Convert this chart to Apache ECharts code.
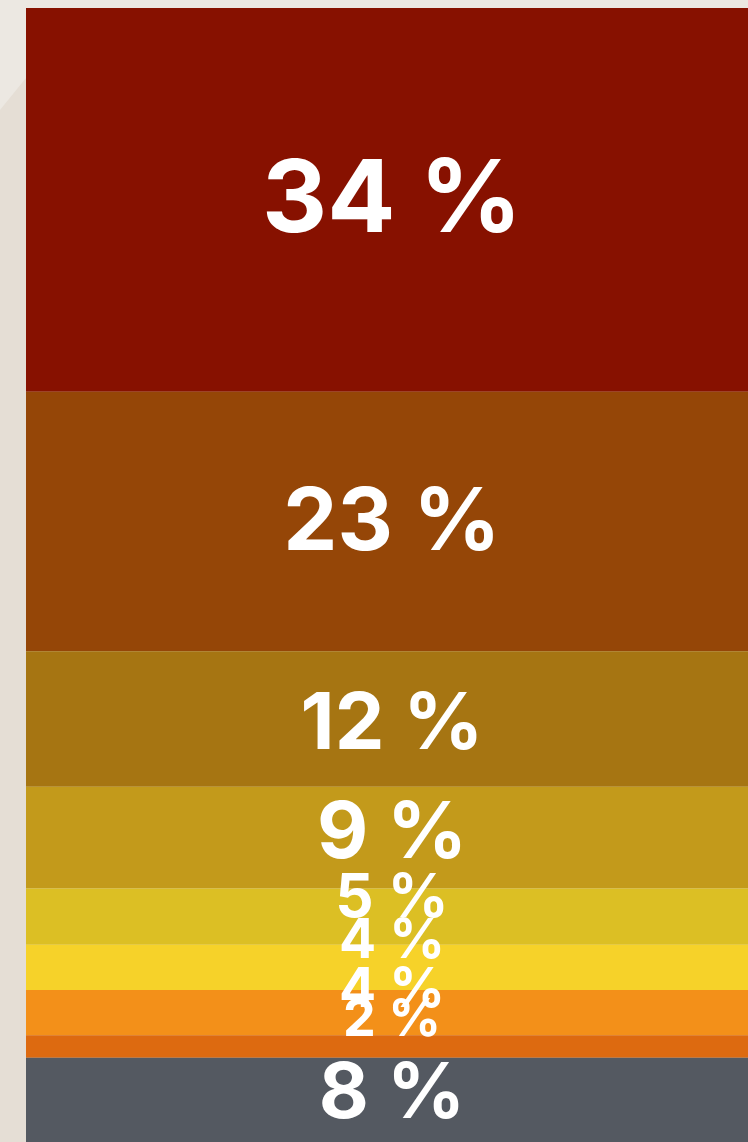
<!DOCTYPE html>
<html>
<head>
<meta charset="utf-8">
<script src="https://cdn.jsdelivr.net/npm/echarts@6/dist/echarts.min.js"></script>
<style>
  html, body { margin: 0; padding: 0; background: #E6E0D7; }
  #chart { width: 748px; height: 1142px; }
</style>
</head>
<body>
<div id="chart"></div>
<script>
// Share of each group, top to bottom
const categories = ['A', 'B', 'C', 'D', 'E', 'F', 'G', 'H', 'Other'];
const shares = [34, 23, 12, 9, 5, 4, 4, 2, 8];
const colors = ['#871100', '#954607', '#A67512', '#C39A1B', '#DCBF24', '#F6D229', '#F39019', '#DD6A10', '#545961'];

// Label styling per segment (font size and vertical nudge)
const labelSizes = [101, 86, 79, 79, 60, 55, 55, 52, 77];
const labelShift = [2, 3, 6, -3, -18, -26, -22, -26, -8];

const total = shares.reduce((a, b) => a + b, 0);

const series = shares.map((v, i) => ({
  name: categories[i],
  type: 'bar',
  stack: 'all',
  barWidth: '100%',
  data: [v],
  itemStyle: { color: colors[i] },
  emphasis: { disabled: true },
  label: {
    show: true,
    position: 'inside',
    formatter: '{c} %',
    color: '#FFFFFF',
    fontFamily: 'Inter',
    fontWeight: 700,
    fontSize: labelSizes[i],
    offset: [5, labelShift[i]]
  }
}));

const chart = echarts.init(document.getElementById('chart'), null, { renderer: 'canvas' });
chart.setOption({
  backgroundColor: '#E5DED5',
  animation: false,
  graphic: [{
    type: 'polygon',
    z: -10,
    shape: { points: [[0, 0], [748, 0], [748, 8], [70, 8], [26, 78], [0, 110]] },
    style: { fill: '#ECE8E2' }
  }],
  // the stack runs a few pixels past the bottom edge of the page
  grid: { left: 26, right: 0, top: 8, height: 1140, outerBoundsMode: 'none' },
  xAxis: { type: 'category', data: ['share'], show: false },
  yAxis: { type: 'value', min: 0, max: total, inverse: true, show: false },
  series: series
});
</script>
</body>
</html>
